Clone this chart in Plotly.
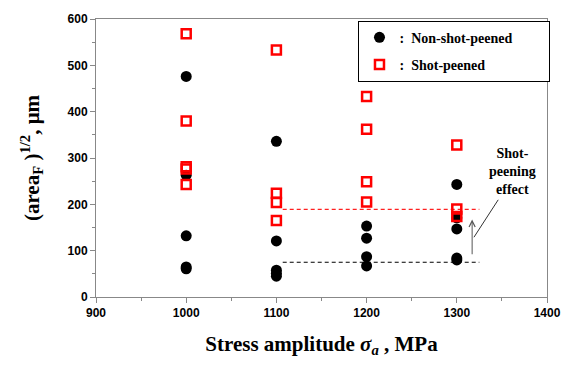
import plotly.graph_objects as go

# Data
non_x = [1000, 1000, 1000, 1000, 1000,
         1100, 1100, 1100, 1100, 1100,
         1200, 1200, 1200, 1200,
         1300, 1300, 1300, 1300, 1300]
non_y = [476, 263, 132, 65, 61,
         336, 121, 58, 51, 45,
         153, 127, 87, 67,
         243, 171, 147, 84, 80]

sp_x = [1000, 1000, 1000, 1000, 1000,
        1100, 1100, 1100, 1100,
        1200, 1200, 1200, 1200,
        1300, 1300, 1300]
sp_y = [568, 380, 281, 276, 243,
        533, 224, 204, 165,
        433, 362, 249, 205,
        328, 190, 174]

line_x = [1107, 1325]
red_level = [189, 189]
black_level = [75, 75]

serif = "Times New Roman, Liberation Serif, serif"
sans = "Arial, Liberation Sans, sans-serif"
pad = "\u00a0" * 9

fig = go.Figure()
fig.add_trace(go.Scatter(x=line_x, y=red_level, mode="lines",
                         line=dict(color="#ff2020", width=1.2, dash="4px,3px"),
                         showlegend=False, hoverinfo="skip"))
fig.add_trace(go.Scatter(x=line_x, y=black_level, mode="lines",
                         line=dict(color="black", width=1.2, dash="4px,3px"),
                         showlegend=False, hoverinfo="skip"))
fig.add_trace(go.Scatter(x=non_x, y=non_y, mode="markers",
                         name=":  Non-shot-peened" + pad, legendgroup="a",
                         marker=dict(symbol="circle", size=11, color="black")))
fig.add_trace(go.Scatter(x=sp_x, y=sp_y, mode="markers",
                         name=":  Shot-peened", legendgroup="b",
                         marker=dict(symbol="square-open", size=9, color="red",
                                     line=dict(width=2.5, color="red"))))

# arrow
fig.add_annotation(x=1317, y=167, ax=1317, ay=89, xref="x", yref="y",
                   axref="x", ayref="y", showarrow=True, arrowhead=5,
                   arrowsize=1.2, arrowwidth=1, arrowcolor="#555", text="")
# leader line
fig.add_annotation(x=1319, y=129, ax=1347, ay=213, xref="x", yref="y",
                   axref="x", ayref="y", showarrow=True, arrowhead=0,
                   arrowwidth=1, arrowcolor="#333", text="")
fig.add_annotation(x=1362, y=212, xref="x", yref="y", showarrow=False,
                   text="Shot-<br>peening<br>effect", yanchor="bottom",
                   font=dict(family=serif, size=14, color="black", weight="bold"),
                   align="center")

fig.update_layout(
    width=573, height=378,
    margin=dict(l=96, r=22, t=15, b=81),
    paper_bgcolor="white", plot_bgcolor="white",
    font=dict(family=sans, color="black"),
    showlegend=True,
    legend=dict(x=0.582, y=0.994, xanchor="left", yanchor="top",
                bgcolor="white", bordercolor="black", borderwidth=1,
                font=dict(family=serif, size=14, color="black", weight="bold"),
                itemwidth=30, tracegroupgap=6),
    xaxis=dict(range=[900, 1400], tickvals=[900, 1000, 1100, 1200, 1300, 1400],
               showgrid=False, zeroline=False, showline=True, linecolor="#888",
               linewidth=1, mirror=True, ticks="outside", ticklen=5,
               tickcolor="#888",
               minor=dict(dtick=50, ticks="outside", ticklen=3, tickcolor="#888"),
               tickfont=dict(family=sans, size=12, color="black", weight="bold"),
               title=dict(text="Stress amplitude <i>σ<sub>a</sub></i> , MPa",
                          font=dict(family=serif, size=21, color="black", weight="bold"),
                          standoff=16)),
    yaxis=dict(range=[0, 600], tickvals=[0, 100, 200, 300, 400, 500, 600],
               showgrid=False, zeroline=False, showline=True, linecolor="#888",
               linewidth=1, mirror=True, ticks="outside", ticklen=5,
               tickcolor="#888",
               minor=dict(dtick=50, ticks="outside", ticklen=3, tickcolor="#888"),
               tickfont=dict(family=sans, size=12, color="black", weight="bold"),
               title=dict(text="(area<sub>F</sub> )<sup>1/2</sup>, μm",
                          font=dict(family=serif, size=21, color="black", weight="bold"),
                          standoff=22)),
)
fig.write_html("out.html")
